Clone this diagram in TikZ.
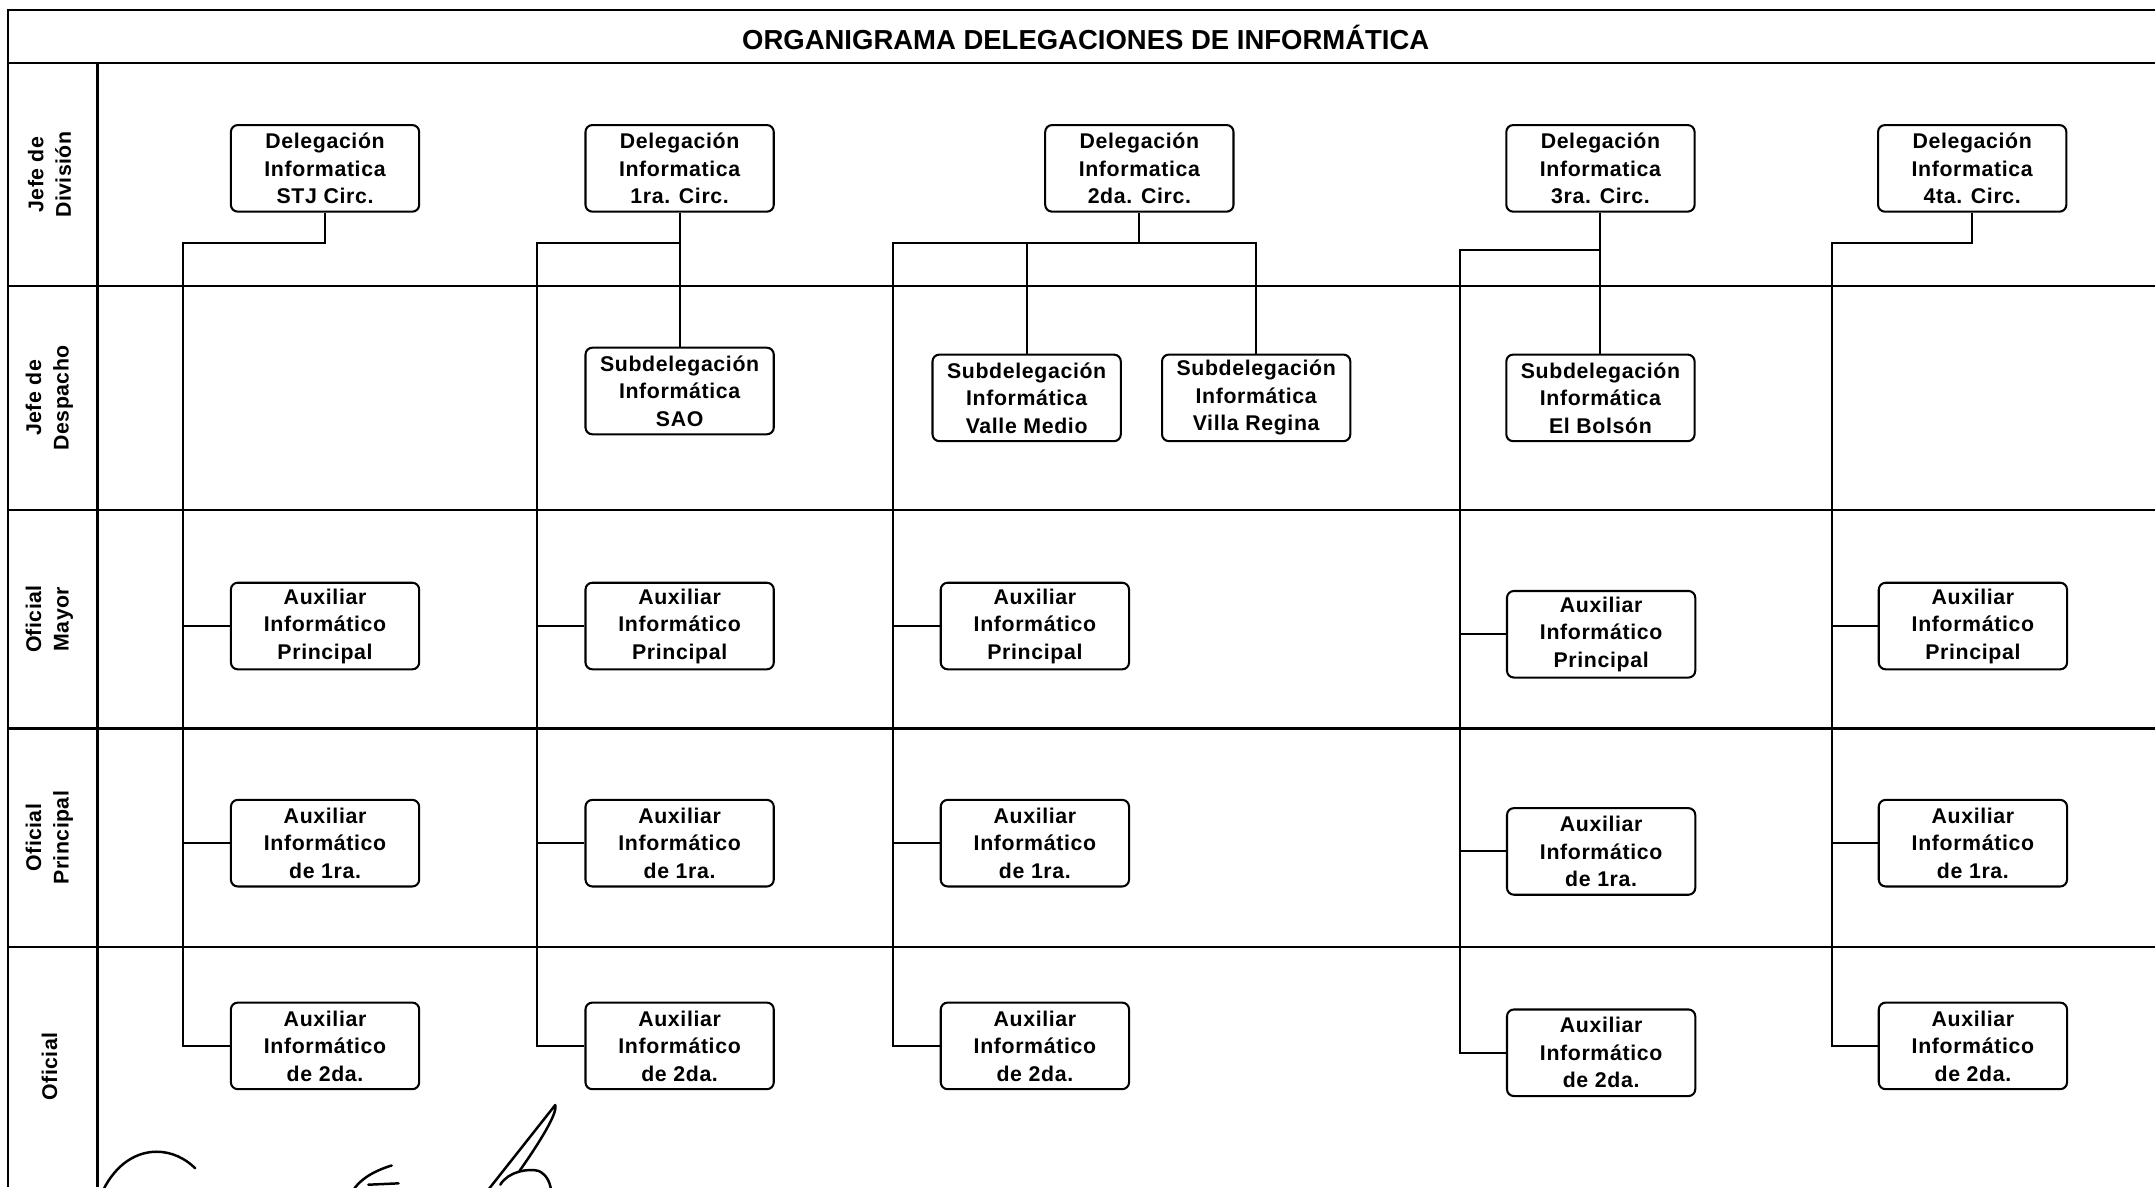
\documentclass[tikz,border=0pt]{standalone}
\usepackage{fontspec}
\setmainfont{Liberation Sans}
\newfontfamily\boxfam{Liberation Sans}[LetterSpace=3]
\newfontfamily\lanefam{Liberation Sans}[LetterSpace=2]
\newfontfamily\titlefam{Liberation Sans}
\begin{document}
\begin{tikzpicture}[x=1pt,y=-1pt,
  grid/.style={line width=1.6pt,black},
  conn/.style={line width=1.5pt,black},
  orgbox/.style={draw,line width=1.5pt,rounded corners=5pt,minimum width=137pt,
    minimum height=63pt,inner sep=0pt,align=center,
    font=\boxfam\bfseries\fontsize{15.5}{20}\selectfont},
  lanelabel/.style={rotate=90,align=center,inner sep=0pt,
    font=\lanefam\bfseries\fontsize{15.5}{20}\selectfont},
  sig/.style={line width=1.8pt,line cap=round,line join=round}]
\useasboundingbox (0,0) rectangle (1568,864);
% frame and grid
\draw[grid] (1568,7) -- (6,7) -- (6,864);
\draw[grid] (6,46) -- (1568,46);
\draw[grid] (71,46) -- (71,864);
\foreach \yy in {208,371,530,689} \draw[grid] (6,\yy) -- (1568,\yy);
% title
\node[font=\titlefam\bfseries\fontsize{20}{24}\selectfont] (title) at (790,27) {ORGANIGRAMA DELEGACIONES DE INFORMÁTICA};
% lane labels
\node[lanelabel] (l1) at (36,127) {Jefe de\\División};
\node[lanelabel] (l2) at (36,289.5) {Jefe de\\Despacho};
\node[lanelabel] (l3) at (36,450.5) {Oficial\\Mayor};
\node[lanelabel] (l4) at (36,609.5) {Oficial\\Principal};
\node[lanelabel] (l5) at (36,776) {Oficial};
% column A (STJ)
\node[orgbox] (dA) at (236.5,122.5) {Delegación\\Informatica\\STJ Circ.};
\node[orgbox] (aA1) at (236.5,455.5) {Auxiliar\\Informático\\Principal};
\node[orgbox] (aA2) at (236.5,613.5) {Auxiliar\\Informático\\de 1ra.};
\node[orgbox] (aA3) at (236.5,761) {Auxiliar\\Informático\\de 2da.};
% column B (1ra)
\node[orgbox] (dB) at (494.5,122.5) {Delegación\\Informatica\\1ra. Circ.};
\node[orgbox] (sB) at (494.5,284.5) {Subdelegación\\Informática\\SAO};
\node[orgbox] (aB1) at (494.5,455.5) {Auxiliar\\Informático\\Principal};
\node[orgbox] (aB2) at (494.5,613.5) {Auxiliar\\Informático\\de 1ra.};
\node[orgbox] (aB3) at (494.5,761) {Auxiliar\\Informático\\de 2da.};
% column C (2da)
\node[orgbox] (dC) at (829,122.5) {Delegación\\Informatica\\2da. Circ.};
\node[orgbox] (vm) at (747,289.5) {Subdelegación\\Informática\\Valle Medio};
\node[orgbox] (vr) at (914,289.5) {Subdelegación\\Informática\\Villa Regina};
\node[orgbox] (aC1) at (753,455.5) {Auxiliar\\Informático\\Principal};
\node[orgbox] (aC2) at (753,613.5) {Auxiliar\\Informático\\de 1ra.};
\node[orgbox] (aC3) at (753,761) {Auxiliar\\Informático\\de 2da.};
% column D (3ra)
\node[orgbox] (dD) at (1164.5,122.5) {Delegación\\Informatica\\3ra. Circ.};
\node[orgbox] (eb) at (1164.5,289.5) {Subdelegación\\Informática\\El Bolsón};
\node[orgbox] (aD1) at (1165,461.5) {Auxiliar\\Informático\\Principal};
\node[orgbox] (aD2) at (1165,619.5) {Auxiliar\\Informático\\de 1ra.};
\node[orgbox] (aD3) at (1165,766) {Auxiliar\\Informático\\de 2da.};
% column E (4ta)
\node[orgbox] (dE) at (1435,122.5) {Delegación\\Informatica\\4ta. Circ.};
\node[orgbox] (aE1) at (1435.5,455.5) {Auxiliar\\Informático\\Principal};
\node[orgbox] (aE2) at (1435.5,613.5) {Auxiliar\\Informático\\de 1ra.};
\node[orgbox] (aE3) at (1435.5,761) {Auxiliar\\Informático\\de 2da.};
% bus coordinates
\coordinate (busA) at (133,177);
\coordinate (busB) at (391,177);
\coordinate (busC) at (650,177);
\coordinate (busD) at (1062,182);
\coordinate (busE) at (1333,177);
% connectors A
\draw[conn] (dA.south) |- (busA) |- (aA3.west);
\draw[conn] (busA |- aA1.west) -- (aA1.west);
\draw[conn] (busA |- aA2.west) -- (aA2.west);
% connectors B
\draw[conn] (dB.south) -- (sB.north);
\draw[conn] (dB.south |- busB) -- (busB) |- (aB3.west);
\draw[conn] (busB |- aB1.west) -- (aB1.west);
\draw[conn] (busB |- aB2.west) -- (aB2.west);
% connectors C
\draw[conn] (dC.south) -- (dC.south |- busC);
\draw[conn] (vr.north) |- (busC) |- (aC3.west);
\draw[conn] (vm.north |- busC) -- (vm.north);
\draw[conn] (busC |- aC1.west) -- (aC1.west);
\draw[conn] (busC |- aC2.west) -- (aC2.west);
% connectors D
\draw[conn] (dD.south) -- (eb.north);
\draw[conn] (dD.south |- busD) -- (busD) |- (aD3.west);
\draw[conn] (busD |- aD1.west) -- (aD1.west);
\draw[conn] (busD |- aD2.west) -- (aD2.west);
% connectors E
\draw[conn] (dE.south) |- (busE) |- (aE3.west);
\draw[conn] (busE |- aE1.west) -- (aE1.west);
\draw[conn] (busE |- aE2.west) -- (aE2.west);
% signature
\draw[sig] (75,866) .. controls (85,846) and (100,838) .. (114,838) .. controls (125,838) and (135,843) .. (142,850);
\draw[sig] (285,848) .. controls (272,852) and (262,858) .. (257,866);
\draw[sig] (268,862) -- (290,861);
\draw[sig] (355,866) -- (404,804) .. controls (406,810) and (392,832) .. (378,852);
\draw[sig] (364,862) .. controls (370,852) and (385,850) .. (392,852) .. controls (398,855) and (400,860) .. (401,866);
\end{tikzpicture}
\end{document}
